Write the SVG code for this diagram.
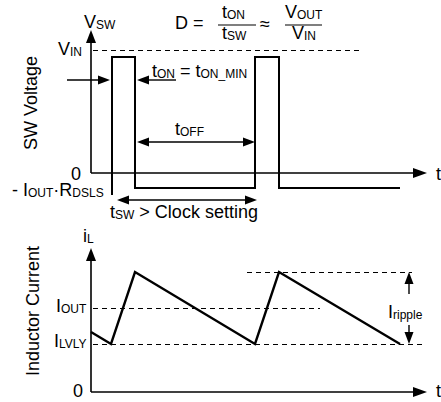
<svg xmlns="http://www.w3.org/2000/svg" width="441" height="402" viewBox="0 0 441 402">
<style>
text{font-family:"Liberation Sans",Arial,sans-serif;font-size:18px;fill:#000}
.s{font-size:12px}
.ax{stroke:#000;stroke-width:1.6;fill:none}
.w{stroke:#000;stroke-width:2.4;fill:none;stroke-linejoin:miter}
.p{stroke:#000;stroke-width:2;fill:none}
.d{stroke:#000;stroke-width:1;stroke-dasharray:5,4;fill:none}
.ar{stroke:#000;stroke-width:1.4;fill:none}
.h{fill:#000;stroke:none}
</style>
<rect width="441" height="402" fill="#fff"/>
<g id="labels">
<text transform="translate(37,103) rotate(-90)" text-anchor="middle">SW Voltage</text>
<text transform="translate(39,311) rotate(-90)" text-anchor="middle">Inductor Current</text>
<text x="84" y="28">V<tspan class="s" dy="1">SW</tspan></text>
<text x="58" y="55">V<tspan class="s" dy="1">IN</tspan></text>
<text x="71" y="180">0</text>
<text x="12" y="196">- I<tspan class="s" dy="1">OUT</tspan><tspan dy="-1">·R</tspan><tspan class="s" dy="1">DSLS</tspan></text>
<text x="152" y="77">t<tspan class="s" dy="1">ON</tspan><tspan dy="-1"> = t</tspan><tspan class="s" dy="1">ON_MIN</tspan></text>
<text x="175" y="135">t<tspan class="s" dy="1">OFF</tspan></text>
<text x="110" y="218">t<tspan class="s" dy="1">SW</tspan><tspan dy="-1"> &gt; Clock setting</tspan></text>
<text x="436" y="180">t</text>
<text x="83" y="242">i<tspan class="s" dy="1">L</tspan></text>
<text x="56" y="312">I<tspan class="s" dy="1">OUT</tspan></text>
<text x="54" y="347">I<tspan class="s" dy="1">LVLY</tspan></text>
<text x="73" y="397">0</text>
<text x="436" y="397">t</text>
<text x="388" y="318">I<tspan class="s" dy="1">ripple</tspan></text>
</g>
<g id="formula">
<text x="175" y="29">D =</text>
<text x="222" y="18">t<tspan class="s" dy="1">ON</tspan></text>
<line x1="218" y1="25" x2="256" y2="25" stroke="#000" stroke-width="1.2"/>
<text x="222" y="39">t<tspan class="s" dy="1">SW</tspan></text>
<text x="260" y="30">≈</text>
<text x="285" y="18">V<tspan class="s" dy="1">OUT</tspan></text>
<line x1="285" y1="25" x2="322" y2="25" stroke="#000" stroke-width="1.2"/>
<text x="292" y="39">V<tspan class="s" dy="1">IN</tspan></text>
</g>
<g id="top-plot">
<line class="ax" x1="91" y1="42" x2="91" y2="173"/>
<polygon class="h" points="91,30 86,43 96,43"/>
<line class="ax" x1="91" y1="173" x2="414" y2="173"/>
<polygon class="h" points="427,173 413,168 413,178"/>
<line class="d" x1="93" y1="50.5" x2="360" y2="50.5"/>
<path class="p" d="M112,195 V57 H135 V188 H255 V57 H279 V188 H400"/>
</g>
<g id="connectors">
<line class="ar" x1="67" y1="80" x2="100" y2="80"/>
<polygon class="h" points="110,80 98,75.5 98,84.5"/>
<line class="ar" x1="147" y1="80" x2="176" y2="80"/>
<polygon class="h" points="137,80 149,75.5 149,84.5"/>
<line class="ar" x1="147" y1="142" x2="245" y2="142"/>
<polygon class="h" points="137,142 149,137.5 149,146.5"/>
<polygon class="h" points="255,142 243,137.5 243,146.5"/>
<line class="ar" x1="127" y1="200" x2="247" y2="200"/>
<polygon class="h" points="117,200 129,195.5 129,204.5"/>
<polygon class="h" points="257,200 245,195.5 245,204.5"/>
<line class="ar" x1="409" y1="282" x2="409" y2="294"/>
<polygon class="h" points="409,272 404.5,284 413.5,284"/>
<line class="ar" x1="409" y1="325" x2="409" y2="333"/>
<polygon class="h" points="409,344 404.5,332 413.5,332"/>
</g>
<g id="bottom-plot">
<line class="ax" x1="91" y1="260" x2="91" y2="392"/>
<polygon class="h" points="91,248 86,261 96,261"/>
<line class="ax" x1="91" y1="392" x2="414" y2="392"/>
<polygon class="h" points="427,392 413,387 413,397"/>
<line class="d" x1="93" y1="308.5" x2="320" y2="308.5"/>
<line class="d" x1="93" y1="344.5" x2="425" y2="344.5"/>
<line class="d" x1="247" y1="272.5" x2="412" y2="272.5"/>
<polyline class="w" points="91,332 111,344 135,272 255,344 279,272 400,344"/>
</g>
</svg>
